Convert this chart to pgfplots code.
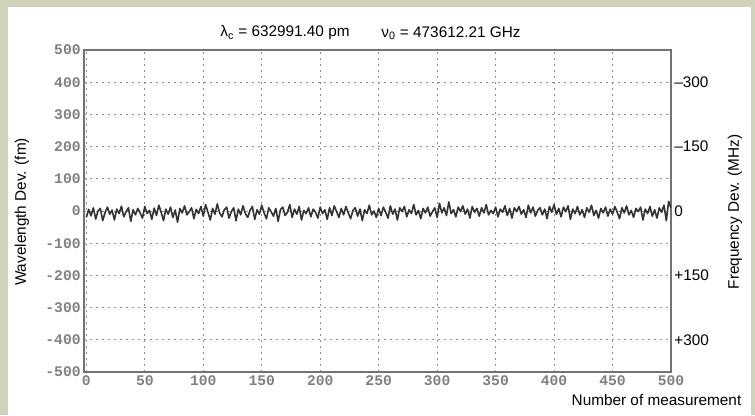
\documentclass[border=0pt]{standalone}
\usepackage{fontspec}
\setmainfont{Liberation Sans}
\setmonofont{Liberation Mono}
\usepackage{pgfplots}
\pgfplotsset{compat=1.18}
\definecolor{frame}{RGB}{208,210,188}
\definecolor{gridc}{RGB}{140,140,140}

\begin{document}
\begin{tikzpicture}[x=1pt,y=1pt]
  % outer frame and white panel
  \fill[frame] (0,0) rectangle (566.25,311.25);
  \fill[white] (6,0) rectangle (563.25,306);

  \begin{axis}[
      at={(63pt,32.25pt)}, anchor=south west, scale only axis,
      width=440.25pt, height=241.5pt,
      xmin=-2, xmax=500, ymin=-500, ymax=500,
      xtick={0,50,...,500}, ytick={-500,-400,...,500},
      grid=major, major grid style={gridc, line width=0.7pt, dash pattern=on 1.5pt off 3pt},
      axis line style={black!55, line width=1pt},
      tick style={draw=none},
      /pgf/number format/assume math mode=true,
      /pgf/number format/1000 sep={},
      tick label style={font=\ttfamily\bfseries\fontsize{11}{11}\selectfont, text=black!50},
      yticklabel style={xshift=1pt},
      xticklabel style={yshift=1pt},
    ]
    \addplot[black!80, line width=1.2pt, line join=round, no markers] coordinates {
      (0,-20)(2,5)(4,-15)(6,10)(8,-25)(10,0)(12,8)(14,-30)(16,-5)(18,12)(20,-10)(22,3)(24,-28)(26,6)(28,-8)(30,15)(32,-18)(34,-2)(36,10)(38,-32)(40,4)(42,-12)(44,8)(46,-6)(48,-22)
      (50,14)(52,-8)(54,2)(56,-26)(58,9)(60,-14)(62,18)(64,-4)(66,-30)(68,6)(70,-10)(72,12)(74,-20)(76,3)(78,-35)(80,8)(82,-6)(84,16)(86,-12)(88,-2)(90,10)(92,-24)(94,5)(96,-8)(98,14)
      (100,-16)(102,20)(104,-4)(106,-28)(108,8)(110,-10)(112,22)(114,-6)(116,-18)(118,4)(120,12)(122,-22)(124,-2)(126,10)(128,-30)(130,6)(132,-12)(134,16)(136,-8)(138,-20)(140,2)(142,14)(144,-26)(146,4)(148,-10)
      (150,18)(152,-6)(154,-24)(156,10)(158,-2)(160,-16)(162,8)(164,-32)(166,4)(168,12)(170,-14)(172,-4)(174,20)(176,-20)(178,6)(180,-10)(182,14)(184,-28)(186,2)(188,-8)(190,10)(192,-18)(194,6)(196,-4)(198,-22)
      (200,12)(202,-8)(204,4)(206,-26)(208,10)(210,-14)(212,16)(214,-2)(216,-20)(218,8)(220,-12)(222,14)(224,-6)(226,-24)(228,2)(230,10)(232,-16)(234,6)(236,-30)(238,4)(240,-8)(242,18)(244,-12)(246,0)(248,-20)
      (250,8)(252,-14)(254,12)(256,-4)(258,-22)(260,16)(262,-10)(264,6)(266,-28)(268,10)(270,-2)(272,14)(274,-18)(276,4)(278,-8)(280,20)(282,-12)(284,2)(286,-24)(288,8)(290,-6)(292,12)(294,-16)(296,-2)(298,10)
      (300,-20)(302,24)(304,-6)(306,10)(308,-14)(310,28)(312,-8)(314,4)(316,-18)(318,12)(320,-2)(322,16)(324,-10)(326,6)(328,-22)(330,14)(332,-4)(334,8)(336,-16)(338,10)(340,-6)(342,20)(344,-12)(346,2)(348,-8)
      (350,12)(352,-18)(354,6)(356,-4)(358,16)(360,-14)(362,8)(364,-22)(366,10)(368,-2)(370,14)(372,-10)(374,4)(376,-20)(378,18)(380,-6)(382,12)(384,-16)(386,2)(388,10)(390,-12)(392,6)(394,-24)(396,14)(398,-4)
      (400,20)(402,-10)(404,8)(406,-18)(408,12)(410,-2)(412,16)(414,-26)(416,6)(418,-8)(420,14)(422,-12)(424,4)(426,-20)(428,10)(430,-4)(432,18)(434,-14)(436,2)(438,-22)(440,8)(442,-6)(444,12)(446,-16)(448,6)
      (450,-10)(452,14)(454,-4)(456,-24)(458,10)(460,-6)(462,16)(464,-12)(466,2)(468,-20)(470,8)(472,-2)(474,12)(476,-28)(478,6)(480,-8)(482,14)(484,-16)(486,4)(488,-22)(490,10)(492,-4)(494,18)(496,-30)(498,30)(500,10)
    };
  \end{axis}

  % right-hand frequency scale
  \begin{axis}[
      at={(63pt,32.25pt)}, anchor=south west, scale only axis,
      width=440.25pt, height=241.5pt,
      xmin=-2, xmax=500, ymin=-500, ymax=500,
      hide x axis, axis y line*=right, y axis line style={draw=none},
      tick style={draw=none},
      ytick={400,200,0,-200,-400},
      yticklabels={–300,–150,0,+150,+300},
      yticklabel style={font=\fontsize{11.5}{12}\selectfont, text=black, xshift=-1pt},
    ]
  \end{axis}

  \node[font=\fontsize{11.5}{12}\selectfont] at (213.75,286.5) {λ\textsubscript{c} = 632991.40 pm};
  \node[font=\fontsize{11.5}{12}\selectfont] at (338.25,286.5) {ν\textsubscript{0} = 473612.21 GHz};
  \node[font=\fontsize{11.5}{12}\selectfont, rotate=90] at (16.5,152.25) {Wavelength Dev. (fm)};
  \node[font=\fontsize{11.5}{12}\selectfont, rotate=90] at (551.25,152.25) {Frequency Dev. (MHz)};
  \node[font=\fontsize{11.5}{12}\selectfont, anchor=east] at (559.5,11.25) {Number of measurement};

  \pgfresetboundingbox
  \path[use as bounding box] (0,0) rectangle (566.25,311.25);
\end{tikzpicture}
\end{document}
